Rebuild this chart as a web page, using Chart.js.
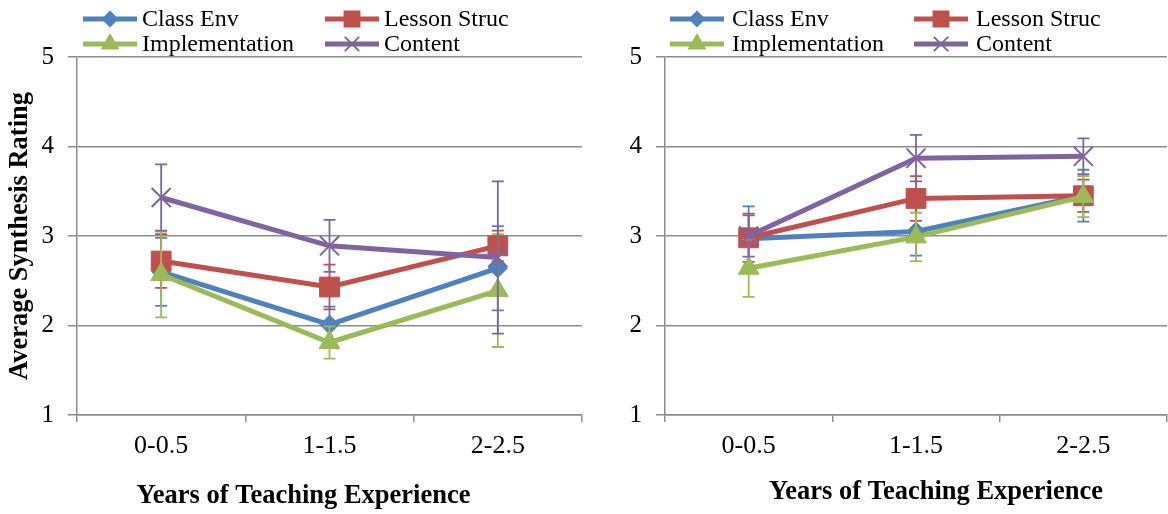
<!DOCTYPE html>
<html>
<head>
<meta charset="utf-8">
<script src="https://cdn.jsdelivr.net/npm/chart.js@4.4.1/dist/chart.umd.min.js"></script>
<style>
  body { margin: 0; background: #fff; }
  .panel { position: absolute; top: 0; width: 584px; height: 514px; }
</style>
</head>
<body>
<div class="panel" style="left:0"><canvas id="leftChart" width="584" height="514"></canvas></div>
<div class="panel" style="left:584px"><canvas id="rightChart" width="584" height="514"></canvas></div>
<script>
const categories = ["0-0.5", "1-1.5", "2-2.5"];
const seriesNames = ["Class Env", "Lesson Struc", "Implementation", "Content"];
const yTicks = [1, 2, 3, 4, 5];

// left panel: means and error bar half-widths
const leftClassEnv = [2.6, 2.01, 2.64];
const leftClassEnvErr = [0.38, 0.2, 0.47];
const leftLessonStruc = [2.72, 2.43, 2.89];
const leftLessonStrucErr = [0.3, 0.25, 0.17];
const leftImplementation = [2.57, 1.81, 2.39];
const leftImplementationErr = [0.48, 0.18, 0.63];
const leftContent = [3.43, 2.89, 2.76];
const leftContentErr = [0.37, 0.29, 0.85];

// right panel
const rightClassEnv = [2.97, 3.05, 3.45];
const rightClassEnvErr = [0.36, 0.27, 0.29];
const rightLessonStruc = [2.98, 3.42, 3.45];
const rightLessonStrucErr = [0.27, 0.25, 0.18];
const rightImplementation = [2.64, 2.99, 3.44];
const rightImplementationErr = [0.32, 0.27, 0.23];
const rightContent = [3.0, 3.87, 3.89];
const rightContentErr = [0.23, 0.26, 0.2];

const colors = ["#4F81BD", "#C0504D", "#9BBB59", "#8064A2"];
const markers = ["rectRot", "rect", "triangle", "crossRot"];
const markerSize = [9.5, 14, 12, 13.5];
const gridColor = "#8c8c8c";
const serif = "'Liberation Serif', 'Times New Roman', serif";

const errorBars = {
  id: "errorBars",
  afterDatasetDraw(chart, args) {
    const ds = chart.data.datasets[args.index];
    const y = chart.scales.y;
    const ctx = chart.ctx;
    ctx.save();
    ctx.strokeStyle = ds.borderColor;
    ctx.lineWidth = 1.8;
    args.meta.data.forEach((pt, i) => {
      const v = ds.data[i], e = ds.errors[i];
      const top = y.getPixelForValue(v + e);
      const bot = y.getPixelForValue(v - e);
      ctx.beginPath();
      ctx.moveTo(pt.x, top); ctx.lineTo(pt.x, bot);
      ctx.moveTo(pt.x - 6, top); ctx.lineTo(pt.x + 6, top);
      ctx.moveTo(pt.x - 6, bot); ctx.lineTo(pt.x + 6, bot);
      ctx.stroke();
    });
    ctx.restore();
  }
};

const excelLegend = {
  id: "excelLegend",
  afterDraw(chart, args, opts) {
    const ctx = chart.ctx;
    ctx.save();
    ctx.font = "24px " + serif;
    ctx.textBaseline = "middle";
    chart.data.datasets.forEach((ds, i) => {
      const x0 = opts.x + (i % 2) * opts.colGap;
      const yy = 19 + Math.floor(i / 2) * 25;
      ctx.strokeStyle = ds.borderColor;
      ctx.lineWidth = 5;
      ctx.beginPath();
      ctx.moveTo(x0, yy); ctx.lineTo(x0 + 54, yy);
      ctx.stroke();
      ctx.fillStyle = ds.borderColor;
      ctx.lineWidth = 2;
      Chart.helpers.drawPoint(ctx, { pointStyle: ds.pointStyle, radius: ds.pointRadius * 0.75, borderWidth: 2 }, x0 + 27, yy);
      ctx.fillStyle = "#000";
      ctx.fillText(ds.label, x0 + opts.textGap, yy + 1);
    });
    ctx.restore();
  }
};

// x axis title, placed off-centre like the original
const xTitle = {
  id: "xTitle",
  afterDraw(chart, args, opts) {
    const ctx = chart.ctx;
    const area = chart.chartArea;
    ctx.save();
    ctx.font = "bold 26.5px " + serif;
    ctx.fillStyle = "#000";
    ctx.textAlign = "center";
    ctx.textBaseline = "middle";
    ctx.fillText(opts.text, (area.left + area.right) / 2 + opts.dx, opts.y);
    ctx.restore();
  }
};

function makeChart(id, series, errs, opts) {
  const datasets = series.map((data, i) => ({
    label: seriesNames[i],
    data: data,
    errors: errs[i],
    borderColor: colors[i],
    backgroundColor: colors[i],
    pointBackgroundColor: colors[i],
    pointBorderColor: colors[i],
    pointBorderWidth: i === 3 ? 2 : 1,
    borderWidth: 5,
    pointStyle: markers[i],
    pointRadius: markerSize[i],
    tension: 0,
    order: 3 - i
  }));
  return new Chart(document.getElementById(id), {
    type: "line",
    data: { labels: categories, datasets: datasets },
    plugins: [errorBars, excelLegend, xTitle],
    options: {
      responsive: false,
      animation: false,
      layout: { autoPadding: false, padding: { top: 57, left: 0, right: opts.padRight, bottom: 0 } },
      plugins: {
        legend: { display: false },
        tooltip: { enabled: false },
        excelLegend: opts.legend,
        xTitle: { text: "Years of Teaching Experience", dx: opts.titleDx, y: opts.titleY }
      },
      scales: {
        x: {
          offset: true,
          grid: { offset: true, drawOnChartArea: false, drawTicks: true, tickLength: 7, color: gridColor, lineWidth: 1.5 },
          border: { display: true, color: gridColor, width: 1.5 },
          ticks: { color: "#000", font: { family: serif, size: 26 }, padding: 9 },
          afterFit: s => { s.height = 99; }
        },
        y: {
          min: 1, max: 5,
          afterBuildTicks: s => { s.ticks = yTicks.map(v => ({ value: v })); },
          grid: { color: gridColor, lineWidth: 1.5, drawTicks: true, tickLength: 9, tickColor: gridColor },
          border: { display: true, color: gridColor, width: 1.5 },
          ticks: { color: "#000", font: { family: serif, size: 25 }, padding: 14 },
          title: { display: opts.yTitle, text: "Average Synthesis Rating", color: "#000",
                   font: { family: serif, size: 26.5, weight: "bold" }, padding: { top: 4, bottom: 0 } },
          afterFit: s => { s.width = opts.yWidth; }
        }
      }
    }
  });
}

makeChart("leftChart",
  [leftClassEnv, leftLessonStruc, leftImplementation, leftContent],
  [leftClassEnvErr, leftLessonStrucErr, leftImplementationErr, leftContentErr],
  { yTitle: true, yWidth: 77, padRight: 2, titleDx: -26, titleY: 496,
    legend: { x: 83, colGap: 242, textGap: 59 } });

makeChart("rightChart",
  [rightClassEnv, rightLessonStruc, rightImplementation, rightContent],
  [rightClassEnvErr, rightLessonStrucErr, rightImplementationErr, rightContentErr],
  { yTitle: false, yWidth: 81, padRight: 1, titleDx: 20, titleY: 492,
    legend: { x: 86, colGap: 244, textGap: 62 } });
</script>
</body>
</html>
